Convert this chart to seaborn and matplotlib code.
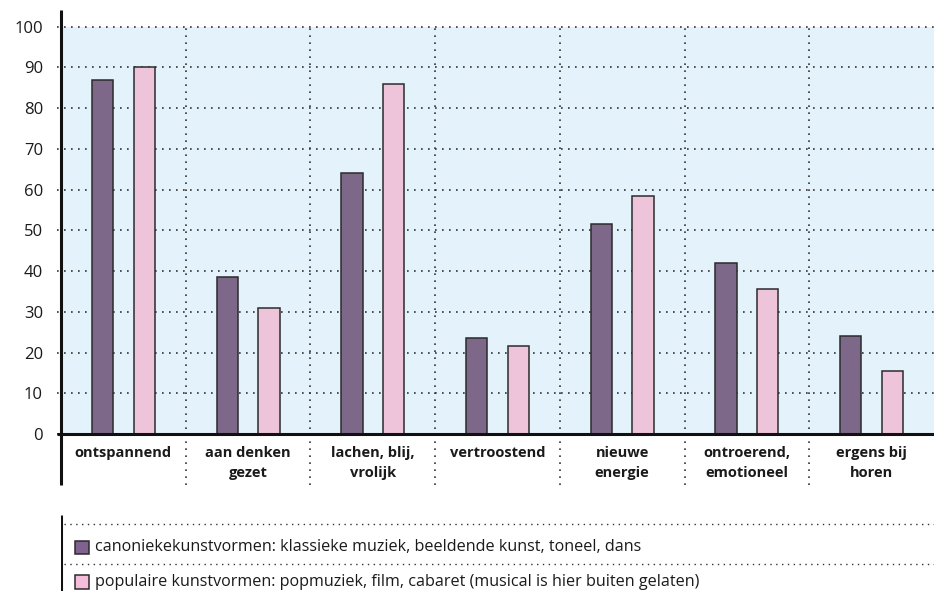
import matplotlib
matplotlib.use("Agg")
import matplotlib.pyplot as plt
from matplotlib.patches import Rectangle
import pandas as pd
import seaborn as sns

# data
categories = ["ontspannend", "aan denken\ngezet", "lachen, blij,\nvrolijk", "vertroostend",
              "nieuwe\nenergie", "ontroerend,\nemotioneel", "ergens bij\nhoren"]
canoniek = [87, 38.5, 64, 23.5, 51.5, 42, 24]
populair = [90, 31, 86, 21.5, 58.5, 35.5, 15.5]
series_names = ["canoniekekunstvormen: klassieke muziek, beeldende kunst, toneel, dans",
                "populaire kunstvormen: popmuziek, film, cabaret (musical is hier buiten gelaten)"]
y_ticks = [0, 10, 20, 30, 40, 50, 60, 70, 80, 90, 100]

colors = ["#7F6290", "#F5BDDB"]
edge = "#2b2b2b"
bg = "#E4F2FB"

df = pd.DataFrame({
    "categorie": categories * 2,
    "waarde": canoniek + populair,
    "groep": [series_names[0]] * len(categories) + [series_names[1]] * len(categories),
})

sns.set_style("white")
plt.rcParams["font.family"] = ["Open Sans", "DejaVu Sans"]

W, H = 934, 591
fig = plt.figure(figsize=(W / 100, H / 100), dpi=100)

# main plot area: x 61..934 px, y 26.7..434 px
ax = fig.add_axes([61 / W, 1 - 434 / H, 1 - 61 / W, (434 - 26.7) / H])
ax.set_facecolor(bg)

sns.barplot(data=df, x="categorie", y="waarde", hue="groep", palette=colors,
            width=0.67, gap=0.49, edgecolor=edge, linewidth=1.1,
            legend=False, ax=ax, zorder=3)

ax.set_xlim(-0.5, len(categories) - 0.5)
ax.set_ylim(0, 100)
ax.set_yticks(y_ticks)
ax.set_yticklabels([str(t) for t in y_ticks], fontsize=12, color="#1a1a1a")
ax.set_xticks(range(len(categories)))
ax.set_xticklabels(categories, fontsize=10.5, fontweight="bold", color="#1a1a1a",
                   linespacing=1.6)
ax.tick_params(axis="x", length=0, pad=8.5)
ax.tick_params(axis="y", length=0, pad=13)
ax.set_xlabel("")
ax.set_ylabel("")

dots = (0, (1, 3.2))
for t in y_ticks:
    ax.plot([-0.53, len(categories) - 0.5], [t, t], color="#333333", lw=1.2,
            linestyle=dots, zorder=1, clip_on=False)
for i in range(len(categories) - 1):
    ax.axvline(i + 0.5, ymin=-0.125, ymax=1, color="#333333", lw=1.2,
               linestyle=dots, zorder=1, clip_on=False)

for s in ax.spines.values():
    s.set_visible(False)
# axes lines
ax.plot([0, 0], [-0.125, 1.041], transform=ax.transAxes, color="#111111", lw=2.2,
        clip_on=False, zorder=5, solid_capstyle="butt")
ax.plot([-0.005, 1], [0, 0], transform=ax.transAxes, color="#111111", lw=2.2,
        clip_on=False, zorder=5, solid_capstyle="butt")

# legend block at the bottom
lg = fig.add_axes([61 / W, 0, 1 - 61 / W, (591 - 515) / H])
lg.set_xlim(61, 934)
lg.set_ylim(591, 515)
lg.axis("off")
lg.plot([61.5, 61.5], [515, 591], color="#111111", lw=2.2, solid_capstyle="butt")
for yy in [524.3, 564.3]:
    lg.plot([64, 934], [yy, yy], color="#333333", lw=1.0, linestyle=dots)
for i, (name, c) in enumerate(zip(series_names, colors)):
    y0 = 540.7 + i * 34.6
    lg.add_patch(Rectangle((75, y0), 14, 13.3, facecolor=c, edgecolor=edge, lw=1.1))
    lg.text(95, y0 + 6.5, name, fontsize=11.6, color="#1a1a1a", va="center", ha="left")

fig.savefig("out.png", dpi=100)
